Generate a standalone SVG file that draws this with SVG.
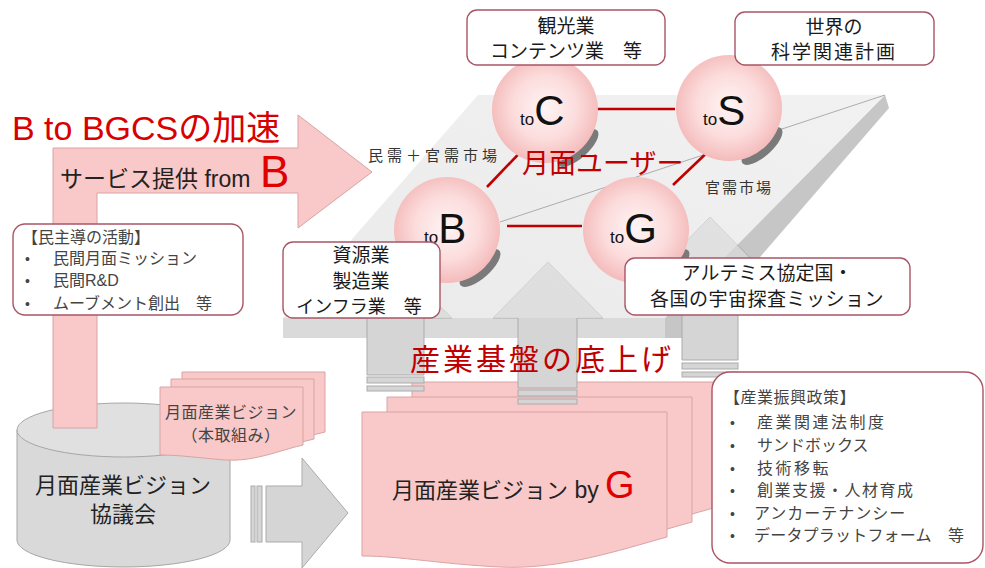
<svg xmlns="http://www.w3.org/2000/svg" width="985" height="568" viewBox="0 0 985 568">
<defs>
<radialGradient id="sph" cx="50%" cy="48%" r="55%">
<stop offset="0" stop-color="#fff4f4"/>
<stop offset="0.55" stop-color="#fcdcdc"/>
<stop offset="1" stop-color="#f3b6b6"/>
</radialGradient>
<linearGradient id="top" x1="0" y1="1" x2="1" y2="0">
<stop offset="0" stop-color="#e0e0e0"/>
<stop offset="1" stop-color="#ebebeb"/>
</linearGradient>
</defs>
<style>
.t{font-family:"Liberation Sans","Noto Sans CJK JP",sans-serif;}
.j{font-family:"Noto Sans CJK JP","Liberation Sans",sans-serif;}
.box{fill:#ffffff;stroke:#a85565;stroke-width:1.4;}
.pink{fill:#f9c8c8;stroke:#d8a4a4;stroke-width:1;}
.gray{fill:#d5d5d5;stroke:#ababab;stroke-width:1;}
.red{stroke:#c00000;stroke-width:2.6;fill:none;}
.shd{fill:#7a7a7a;}
.sp{fill:url(#sph);}
</style>

<!-- big document stack -->
<g id="vision-g">
<path class="pink" d="M412,382 H717 V507 C670,520 610,540 550,537 C490,534 450,526 412,526 Z"/>
<path class="pink" d="M387,397 H692 V522 C645,535 585,555 525,552 C465,549 425,541 387,541 Z"/>
<path class="pink" d="M362,412 H667 V537 C620,550 560,570 500,567 C440,564 400,556 362,556 Z"/>
<text class="t" x="392" y="498" fill="#222"><tspan font-size="22">月面産業ビジョン</tspan><tspan font-size="23"> by </tspan><tspan font-size="38" fill="#e00000">G</tspan></text>
</g>

<!-- slab faces -->
<g id="slab">
<polygon points="283,318 665,318 665,338 283,338" fill="#dadada"/>
<polygon points="885,95 889,108 690,338 665,338 665,318" fill="#c6c6c6"/>
</g>

<!-- upward arrows -->
<g id="up-arrows">
<path class="gray" d="M340,318 L395,262 L452,318 L424,318 L424,375 L367,375 L367,318 Z"/>
<rect class="gray" x="367" y="377" width="57" height="6"/>
<rect class="gray" x="367" y="386" width="57" height="5"/>
<path class="gray" d="M493,318 L548,262 L603,318 L577,318 L577,388 L518,388 L518,318 Z"/>
<rect class="gray" x="518" y="390" width="59" height="6"/>
<rect class="gray" x="518" y="399" width="59" height="5"/>
<path class="gray" d="M655,273 L710,217 L765,273 L738,273 L738,360 L682,360 L682,273 Z"/>
<rect class="gray" x="682" y="363" width="56" height="6"/>
<rect class="gray" x="682" y="372" width="56" height="5"/>
</g>

<g id="slab-top">
<polygon points="478,95 885,95 665,318 283,318" fill="url(#top)" fill-opacity="0.68"/>
<line x1="500" y1="222" x2="885" y2="95" stroke="#9a9a9a" stroke-width="0.8"/>
</g>

<g id="label-kiban">
<text class="j" x="410" y="370" font-size="30" fill="#c00000" letter-spacing="3">産業基盤の底上げ</text>
</g>

<!-- cylinder -->
<g id="council">
<path d="M17,430 V540 A106.5,27 0 0 0 230,540 V430" fill="#d9d9d9" stroke="#a6a6a6" stroke-width="1"/>
<ellipse cx="123.5" cy="430" rx="106.5" ry="27" fill="#e0e0e0" stroke="#a6a6a6" stroke-width="1"/>
<text class="j" x="123" y="493" font-size="22" fill="#222" text-anchor="middle">月面産業ビジョン</text>
<text class="j" x="123" y="522" font-size="22" fill="#222" text-anchor="middle">協議会</text>
</g>

<!-- B to BGCS arrow -->
<g id="btob-arrow">
<polygon class="pink" points="53,428 53,148 298,148 298,115 372,172 298,228 298,193 97,193 97,428"/>
<text class="t" x="12" y="140" font-size="34" fill="#d80000">B to BGCSの加速</text>
<text class="t" x="60" y="187" font-size="23" fill="#222">サービス提供 from</text>
<text class="t" x="260" y="187" font-size="44" fill="#e00000">B</text>
</g>

<!-- small doc stack -->
<g id="vision-draft">
<path class="pink" d="M182,372 H325 V432 C302,437 277,449 247,447 C222,445 202,440 182,440 Z"/>
<path class="pink" d="M171,379 H314 V439 C291,444 266,456 236,454 C211,452 191,447 171,447 Z"/>
<path class="pink" d="M160,387 H303 V445 C280,450 255,462 225,460 C200,458 180,455 160,455 Z"/>
<text class="j" x="231" y="418" font-size="16" fill="#444" text-anchor="middle" letter-spacing="0.5">月面産業ビジョン</text>
<text class="j" x="231" y="441" font-size="16" fill="#444" text-anchor="middle" letter-spacing="0.5">（本取組み）</text>
</g>

<!-- right gray arrow -->
<g id="right-arrow">
<rect class="gray" x="251" y="486" width="4" height="56"/>
<rect class="gray" x="257" y="486" width="5" height="56"/>
<polygon class="gray" points="266,486 302,486 302,458 348,513 302,568 302,542 266,542"/>
</g>

<!-- market labels -->
<g id="labels">
<text class="j" x="368" y="161" font-size="15" fill="#333" letter-spacing="4">民需＋官需市場</text>
<text class="j" x="705" y="193" font-size="15" fill="#333" letter-spacing="2">官需市場</text>
</g>

<!-- connectors -->
<g id="connectors">
<line class="red" x1="583" y1="109" x2="675" y2="109"/>
<line class="red" x1="507" y1="226" x2="582" y2="226"/>
<line class="red" x1="487" y1="187" x2="530" y2="142"/>
<line class="red" x1="673" y1="185" x2="715" y2="145"/>
</g>

<!-- spheres -->
<g id="toC">
<ellipse class="shd" cx="578" cy="148" rx="26" ry="10" transform="rotate(-42 578 148)"/>
<circle class="sp" cx="545" cy="110" r="53"/>
<text class="t" x="520" y="125" fill="#111"><tspan font-size="17">to</tspan><tspan font-size="42">C</tspan></text>
</g>
<g id="toS">
<ellipse class="shd" cx="762" cy="146" rx="26" ry="10" transform="rotate(-42 762 146)"/>
<circle class="sp" cx="729" cy="108" r="53"/>
<text class="t" x="703" y="125" fill="#111"><tspan font-size="17">to</tspan><tspan font-size="42">S</tspan></text>
</g>
<g id="toB">
<ellipse class="shd" cx="480" cy="268" rx="26" ry="10" transform="rotate(-42 480 268)"/>
<circle class="sp" cx="447" cy="230" r="53"/>
<text class="t" x="424" y="243" fill="#111"><tspan font-size="17">to</tspan><tspan font-size="42">B</tspan></text>
</g>
<g id="toG">
<ellipse class="shd" cx="669" cy="268" rx="26" ry="10" transform="rotate(-42 669 268)"/>
<circle class="sp" cx="636" cy="230" r="53"/>
<text class="t" x="610" y="243" fill="#111"><tspan font-size="17">to</tspan><tspan font-size="42">G</tspan></text>
</g>

<g id="lunar-user">
<text class="j" x="522" y="173" font-size="27" fill="#c00000">月面ユーザー</text>
</g>

<!-- boxes -->
<g id="box-c">
<rect class="box" x="467" y="10" width="198" height="55" rx="10"/>
<text class="j" x="566" y="33" font-size="19" fill="#1a1a1a" text-anchor="middle">観光業</text>
<text class="j" x="566" y="58" font-size="19" fill="#1a1a1a" text-anchor="middle">コンテンツ業　等</text>
</g>
<g id="box-s">
<rect class="box" x="735" y="12" width="199" height="53" rx="10"/>
<text class="j" x="834" y="34" font-size="19" fill="#1a1a1a" text-anchor="middle">世界の</text>
<text class="j" x="834" y="59" font-size="19" fill="#1a1a1a" text-anchor="middle" letter-spacing="2">科学関連計画</text>
</g>
<g id="box-b">
<rect class="box" x="283" y="242" width="157" height="76" rx="10"/>
<text class="j" x="361" y="262" font-size="19" fill="#1a1a1a" text-anchor="middle">資源業</text>
<text class="j" x="361" y="288" font-size="19" fill="#1a1a1a" text-anchor="middle">製造業</text>
<text class="j" x="359" y="313" font-size="18" fill="#1a1a1a" text-anchor="middle">インフラ業　等</text>
</g>
<g id="box-g">
<rect class="box" x="625" y="258" width="285" height="57" rx="10"/>
<text class="j" x="767" y="280" font-size="19" fill="#1a1a1a" text-anchor="middle">アルテミス協定国・</text>
<text class="j" x="767" y="306" font-size="19" fill="#1a1a1a" text-anchor="middle" letter-spacing="0.5">各国の宇宙探査ミッション</text>
</g>
<g id="box-private">
<rect class="box" x="13" y="224" width="230" height="91" rx="12"/>
<text class="j" x="22" y="243" font-size="16" fill="#444">【民主導の活動】</text>
<text class="t" x="25" y="264" font-size="14" fill="#444">•</text>
<text class="j" x="53" y="264" font-size="16" fill="#444">民間月面ミッション</text>
<text class="t" x="25" y="286" font-size="14" fill="#444">•</text>
<text class="t" x="53" y="286" font-size="16" fill="#444">民間R&amp;D</text>
<text class="t" x="25" y="309" font-size="14" fill="#444">•</text>
<text class="j" x="53" y="309" font-size="16" fill="#444">ムーブメント創出　等</text>
</g>
<g id="box-policy">
<rect class="box" x="712" y="372" width="271" height="191" rx="18"/>
<text class="j" x="724" y="403" font-size="16" fill="#444" letter-spacing="0.5">【産業振興政策】</text>
<text class="t" x="730" y="428" font-size="14" fill="#444">•</text>
<text class="j" x="757" y="428" font-size="16" fill="#444" letter-spacing="2.5">産業関連法制度</text>
<text class="t" x="730" y="451" font-size="14" fill="#444">•</text>
<text class="j" x="757" y="451" font-size="16" fill="#444">サンドボックス</text>
<text class="t" x="730" y="474" font-size="14" fill="#444">•</text>
<text class="j" x="757" y="474" font-size="16" fill="#444" letter-spacing="2.5">技術移転</text>
<text class="t" x="730" y="496" font-size="14" fill="#444">•</text>
<text class="j" x="757" y="496" font-size="16" fill="#444" letter-spacing="1.5">創業支援・人材育成</text>
<text class="t" x="730" y="519" font-size="14" fill="#444">•</text>
<text class="j" x="754" y="519" font-size="16" fill="#444" letter-spacing="1">アンカーテナンシー</text>
<text class="t" x="730" y="541" font-size="14" fill="#444">•</text>
<text class="j" x="754" y="541" font-size="16" fill="#444" letter-spacing="0.2">データプラットフォーム　等</text>
</g>
</svg>
